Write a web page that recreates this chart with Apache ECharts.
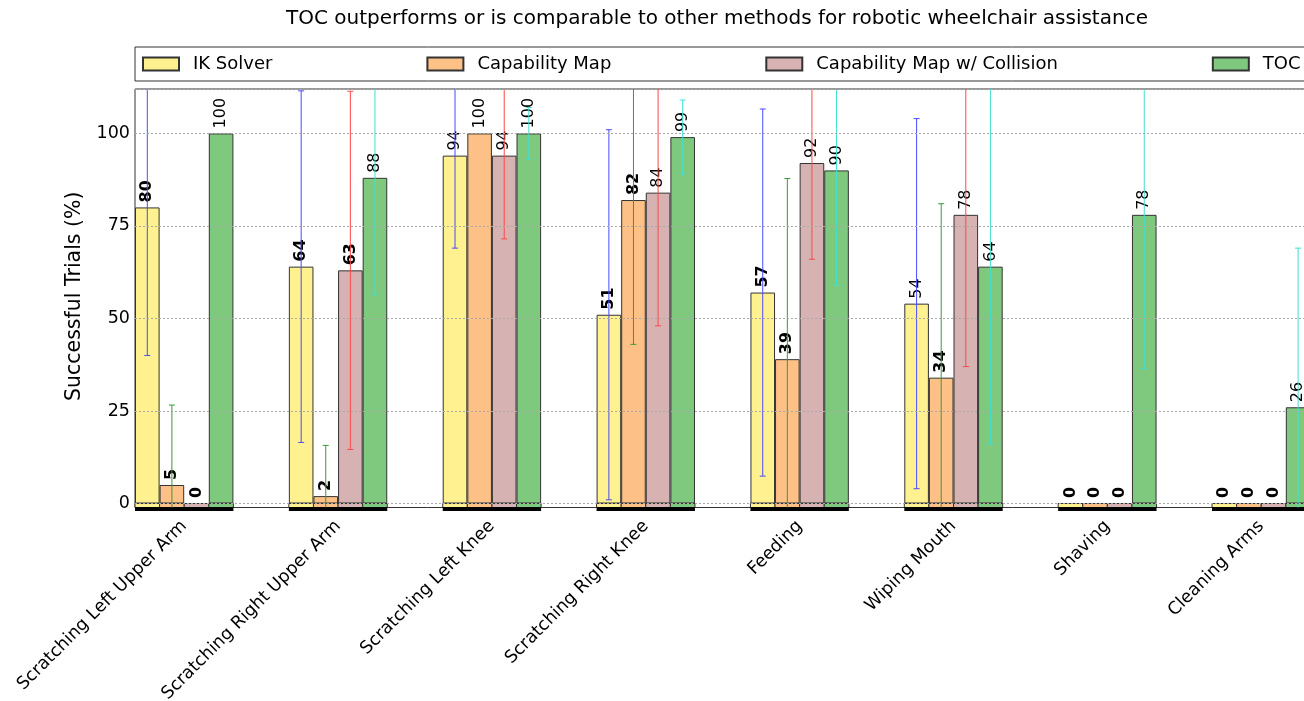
<!DOCTYPE html>
<html>
<head>
<meta charset="utf-8">
<title>TOC vs. other methods</title>
<script src="https://cdn.jsdelivr.net/npm/echarts@6/dist/echarts.min.js"></script>
<style>
  html, body { margin: 0; padding: 0; background: #ffffff; }
  #chart { width: 1304px; height: 701px; }
</style>
</head>
<body>
<div id="chart"></div>
<script>
// ---- data ----
const categories = [
  'Scratching Left Upper Arm', 'Scratching Right Upper Arm', 'Scratching Left Knee',
  'Scratching Right Knee', 'Feeding', 'Wiping Mouth', 'Shaving', 'Cleaning Arms'
];
const methods = ['IK Solver', 'Capability Map', 'Capability Map w/ Collision', 'TOC'];

// success rate (%) per task
const ikSolver               = [80, 64, 94, 51, 57, 54, 0, 0];
const capabilityMap          = [5, 2, 100, 82, 39, 34, 0, 0];
const capabilityMapCollision = [0, 63, 94, 84, 92, 78, 0, 0];
const toc                    = [100, 88, 100, 99, 90, 64, 78, 26];

// symmetric error (%) per task
const ikSolverErr               = [40, 47.5, 25, 50, 49.6, 50, 0, 0];
const capabilityMapErr          = [21.6, 13.7, 0, 39, 48.8, 47, 0, 0];
const capabilityMapCollisionErr = [0, 48.4, 22.5, 36, 26, 41, 0, 0];
const tocErr                    = [0, 31.5, 7, 10, 31, 48, 41.6, 43];

// 1 = significant difference from TOC (value printed in bold)
const ikSolverBold               = [1, 1, 0, 1, 1, 0, 1, 1];
const capabilityMapBold          = [1, 1, 0, 1, 1, 1, 1, 1];
const capabilityMapCollisionBold = [1, 1, 0, 0, 0, 0, 1, 1];
const tocBold                    = [0, 0, 0, 0, 0, 0, 0, 0];

const yTicks = [0, 25, 50, 75, 100];
const yMax = 112;

// ---- style / layout ----
const FONT = 'DejaVu Sans';
const barColors = ['#fff18f', '#fdc086', '#d6b2b2', '#7fc97f'];
const errColors = ['#4a4aff', '#3a9a3a', '#ff4848', '#40e0d0'];

const PLOT_TOP = 89;          // px
const ZERO_Y = 503.5;         // px of value 0
const PLOT_BOTTOM = 507.5;    // px of frame bottom
const pxPerUnit = (ZERO_Y - PLOT_TOP) / yMax;
const yFloor = -(PLOT_BOTTOM - ZERO_Y) / pxPerUnit;

const BAND = 153.86;          // px per task group
const BAR_W = 24.6;           // px per bar
const GROUP_LEFT = 135;       // left edge of the first group = frame left
const barGridLeft = GROUP_LEFT + 2 * BAR_W - BAND / 2;

const values = [ikSolver, capabilityMap, capabilityMapCollision, toc];
const errors = [ikSolverErr, capabilityMapErr, capabilityMapCollisionErr, tocErr];
const bolds  = [ikSolverBold, capabilityMapBold, capabilityMapCollisionBold, tocBold];

const chart = echarts.init(document.getElementById('chart'), null, { renderer: 'canvas' });

const barSeries = methods.map((name, k) => ({
  name,
  type: 'bar',
  xAxisIndex: 0,
  yAxisIndex: 0,
  barWidth: BAR_W,
  barGap: '0%',
  z: 2,
  itemStyle: { color: barColors[k], borderColor: '#333', borderWidth: 1 },
  label: {
    show: true,
    position: 'top',
    rotate: 90,
    align: 'left',
    verticalAlign: 'middle',
    distance: 5,
    fontSize: 16,
    fontFamily: FONT,
    color: '#000'
  },
  data: values[k].map((v, i) => ({
    value: v,
    label: { fontWeight: bolds[k][i] ? 'bold' : 'normal' }
  }))
}));

// portion of each bar below the zero line, plus the dark base strip under each group
const baseSeries = {
  type: 'custom',
  xAxisIndex: 0,
  yAxisIndex: 0,
  z: 1,
  silent: true,
  data: categories.map((c, i) => [i, 0]),
  renderItem(params, api) {
    const i = api.value(0);
    const zero = api.coord([i, 0]);
    const floor = api.coord([i, yFloor]);
    const left = zero[0] - 2 * BAR_W;
    const children = [];
    for (let k = 0; k < 4; k++) {
      children.push({
        type: 'rect',
        shape: { x: left + k * BAR_W, y: zero[1], width: BAR_W, height: floor[1] - zero[1] },
        style: { fill: barColors[k], stroke: '#333', lineWidth: 1 }
      });
    }
    children.push({
      type: 'rect',
      shape: { x: left, y: floor[1] - 0.5, width: 4 * BAR_W, height: 4 },
      style: { fill: '#000' }
    });
    return { type: 'group', children };
  }
};

const errSeries = methods.map((name, k) => ({
  type: 'custom',
  xAxisIndex: 0,
  yAxisIndex: 0,
  z: 4,
  clip: true,
  silent: true,
  data: values[k].map((v, i) => [i, v, errors[k][i]]),
  renderItem(params, api) {
    const i = api.value(0), v = api.value(1), e = api.value(2);
    if (!e) return null;
    const c = api.coord([i, v]);
    const x = c[0] + (k - 1.5) * BAR_W;
    const yTop = api.coord([i, v + e])[1];
    const yBot = api.coord([i, v - e])[1];
    const st = { stroke: errColors[k], lineWidth: 1 };
    return {
      type: 'group',
      children: [
        { type: 'line', shape: { x1: x, y1: yTop, x2: x, y2: yBot }, style: st },
        { type: 'line', shape: { x1: x - 3, y1: yTop, x2: x + 3, y2: yTop }, style: st },
        { type: 'line', shape: { x1: x - 3, y1: yBot, x2: x + 3, y2: yBot }, style: st }
      ]
    };
  }
}));

const option = {
  animation: false,
  backgroundColor: '#ffffff',
  textStyle: { fontFamily: FONT, color: '#000' },
  title: {
    text: 'TOC outperforms or is comparable to other methods for robotic wheelchair assistance',
    left: 286,
    top: 9,
    padding: 0,
    textStyle: { fontSize: 20, fontWeight: 'normal', color: '#000', fontFamily: FONT }
  },
  legend: {
    data: methods,
    left: GROUP_LEFT,
    top: 47,
    width: 1500,
    orient: 'horizontal',
    icon: 'rect',
    itemWidth: 36,
    itemHeight: 13,
    itemGap: 154,
    padding: [7, 7],
    borderColor: '#333',
    borderWidth: 1,
    selectedMode: false,
    textStyle: {
      fontSize: 18, fontFamily: FONT, color: '#000',
      lineHeight: 20, padding: [0, 0, 0, 9]
    }
  },
  grid: [
    // bars
    {
      left: barGridLeft, width: 8 * BAND, top: PLOT_TOP, height: PLOT_BOTTOM - PLOT_TOP,
      outerBoundsMode: 'none', containLabel: false
    },
    // value ticks and grid lines (0 .. yMax)
    {
      left: GROUP_LEFT, width: 1300, top: PLOT_TOP, height: ZERO_Y - PLOT_TOP,
      outerBoundsMode: 'none', containLabel: false
    },
    // plot frame
    {
      left: GROUP_LEFT, width: 1300, top: PLOT_TOP, height: PLOT_BOTTOM - PLOT_TOP,
      outerBoundsMode: 'none', containLabel: false,
      show: true, borderColor: '#333', borderWidth: 1, backgroundColor: 'transparent'
    }
  ],
  xAxis: [
    {
      type: 'category',
      gridIndex: 0,
      data: categories,
      axisLine: { show: false },
      axisTick: { show: false },
      axisLabel: {
        interval: 0,
        rotate: 45,
        margin: 16,
        fontSize: 17.5,
        fontFamily: FONT,
        color: '#000'
      }
    },
    { type: 'category', gridIndex: 1, data: categories, show: false },
    { type: 'category', gridIndex: 2, data: categories, show: false }
  ],
  yAxis: [
    { type: 'value', gridIndex: 0, min: yFloor, max: yMax, show: false },
    {
      type: 'value',
      gridIndex: 1,
      min: yTicks[0],
      max: yMax,
      interval: yTicks[1] - yTicks[0],
      z: 5,
      name: 'Successful Trials (%)',
      nameLocation: 'middle',
      nameGap: 50,
      nameTextStyle: { fontSize: 20.5, fontFamily: FONT, color: '#000' },
      axisLine: { show: false },
      axisTick: { show: false },
      axisLabel: {
        margin: 5,
        fontSize: 17.5,
        fontFamily: FONT,
        color: '#000',
        showMaxLabel: false,
        formatter: v => (yTicks.indexOf(v) >= 0 ? String(v) : '')
      },
      splitLine: { show: true, lineStyle: { color: '#a8a8a8', type: [2, 2], width: 1 } }
    },
    { type: 'value', gridIndex: 2, min: yFloor, max: yMax, show: false }
  ],
  series: [baseSeries, ...barSeries, ...errSeries]
};

chart.setOption(option);
</script>
</body>
</html>
